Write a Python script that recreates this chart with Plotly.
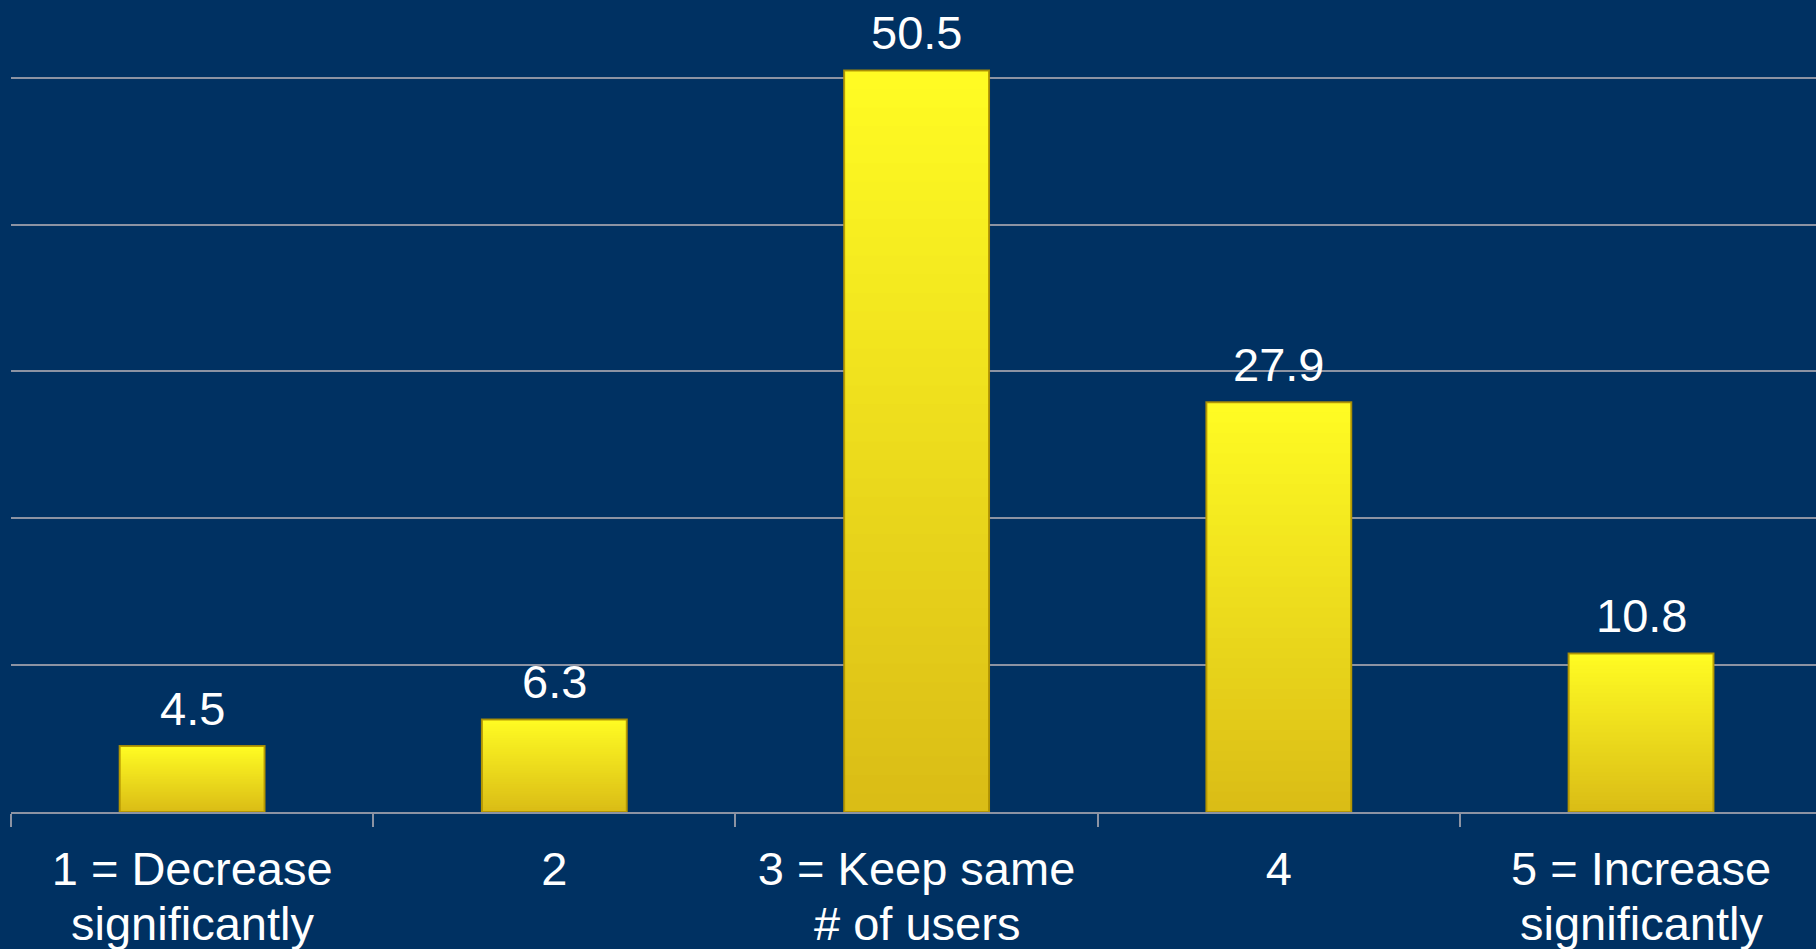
import plotly.graph_objects as go

categories = ["1 = Decrease", "2", "3 = Keep same", "4", "5 = Increase"]
categories_line2 = ["significantly", "", "# of users", "", "significantly"]
values = [4.5, 6.3, 50.5, 27.9, 10.8]
value_labels = ["4.5", "6.3", "50.5", "27.9", "10.8"]

BG = "rgb(0,49,98)"
GRID = "#8C93A3"
TOP = (255, 252, 35)
BOTTOM = (218, 188, 22)
N = 40
FONT = "Liberation Sans, Arial"
FS = 47

fig = go.Figure()
# vertical gradient: draw full-height bright bar first, then progressively
# shorter, darker bars on top of it (overlapping, so no seams)
for i in range(N):
    frac = (N - i) / N          # height fraction of this layer
    t = (N - i - 0.5) / N       # colour position: 1 top -> 0 bottom
    c = tuple(round(BOTTOM[k] + (TOP[k] - BOTTOM[k]) * t) for k in range(3))
    fig.add_trace(go.Bar(
        x=categories,
        y=[v * frac for v in values],
        width=0.4,
        marker=dict(color="rgb(%d,%d,%d)" % c, line=dict(width=0)),
        hoverinfo="skip",
        showlegend=False,
    ))
# outline / bevel edge
fig.add_trace(go.Bar(
    x=categories, y=values, width=0.4,
    marker=dict(color="rgba(0,0,0,0)", line=dict(color="rgba(175,145,0,0.9)", width=2)),
    showlegend=False, hoverinfo="skip",
))

for idx, (v, lab) in enumerate(zip(values, value_labels)):
    fig.add_annotation(x=idx, y=v, text=lab, showarrow=False, yanchor="bottom",
                       yshift=9, font=dict(family=FONT, size=FS, color="white"))

# second line of the category labels (tighter line spacing than <br>)
for idx, l2 in enumerate(categories_line2):
    if l2:
        fig.add_annotation(x=idx, xref="x", y=0, yref="paper", text=l2, showarrow=False,
                           yanchor="middle", yshift=-111,
                           font=dict(family=FONT, size=FS, color="white"))

fig.update_layout(
    width=1816, height=949,
    barmode="overlay",
    paper_bgcolor=BG, plot_bgcolor=BG,
    margin=dict(l=11, r=0, t=0, b=137, autoexpand=False),
    font=dict(family=FONT, size=FS, color="white"),
    showlegend=False,
)
fig.update_xaxes(
    type="category", range=[-0.5, 4.483], tickson="boundaries", automargin=False,
    showline=True, linecolor=GRID, linewidth=2,
    ticks="outside", ticklen=13, tickwidth=2, tickcolor=GRID,
    ticklabelstandoff=15,
    showgrid=False, tickfont=dict(family=FONT, size=FS, color="white"),
)
fig.update_yaxes(
    range=[0, 55.3], dtick=10, showgrid=True, gridcolor=GRID, gridwidth=2,
    automargin=False,
    showticklabels=False, zeroline=False, showline=False, ticks="",
)

fig.write_html("out.html")
